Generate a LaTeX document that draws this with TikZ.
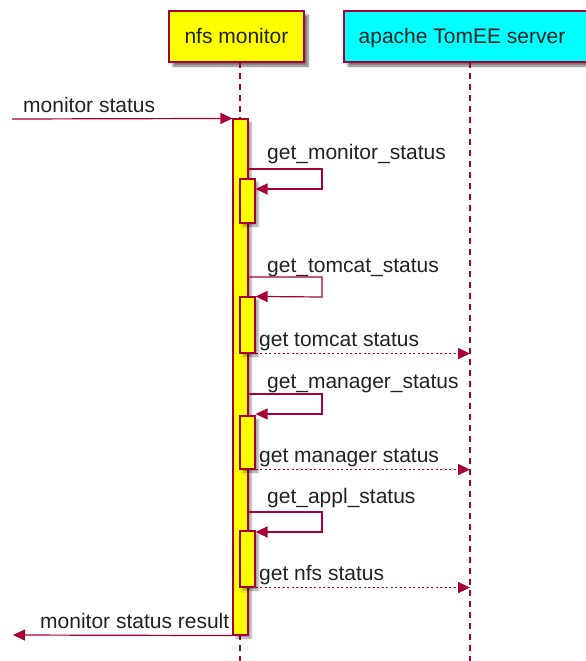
\documentclass[tikz,border=0pt]{standalone}
\usepackage{fontspec}
\setmainfont{Liberation Sans}
\usetikzlibrary{arrows.meta,shadows.blur}
\definecolor{umlred}{HTML}{A80036}
\definecolor{txt}{HTML}{222222}
\definecolor{aqua}{HTML}{00FFFF}
\definecolor{lemon}{HTML}{FFFF00}

\begin{document}
\begin{tikzpicture}[x=1pt,y=-1pt,
  lbl/.style={anchor=base west, inner sep=0pt, text=txt, font=\fontsize{21}{24}\selectfont},
  participant/.style={draw=umlred, line width=1.3pt, inner sep=0pt,
    minimum height=51pt, text height=15pt, text depth=0pt, text=txt,
    font=\fontsize{21}{24}\selectfont,
    blur shadow={shadow xshift=4pt, shadow yshift=-4pt, shadow blur steps=6, shadow opacity=55}},
  bar/.style={draw=umlred, fill=lemon, line width=1.1pt, inner sep=0pt, minimum width=15pt,
    blur shadow={shadow xshift=3pt, shadow yshift=-3pt, shadow blur steps=4, shadow opacity=40}},
  lifeline/.style={draw=umlred, line width=1.2pt, dash pattern=on 6pt off 5pt},
  headed/.style={-{Triangle[length=12pt,width=11pt,fill=umlred]}},
  msg/.style={draw=umlred, line width=1.2pt, headed},
  reply/.style={msg, line width=1.4pt, dash pattern=on 2pt off 2.5pt}
]
\useasboundingbox (0,0) rectangle (586,661);

% participants
\node[participant, fill=lemon, minimum width=135pt] (mon) at (236.5,36.5) {nfs monitor};
\node[participant, fill=aqua, minimum width=250pt] (srv) at (469,36.5) {\hspace*{-14pt}apache TomEE server};

% lifelines
\coordinate (monTop) at (240,62);
\coordinate (monEnd) at (240,661);
\coordinate (srvTop) at (470,62);
\coordinate (srvEnd) at (470,661);
\draw[lifeline] (monTop) -- (monEnd);
\draw[lifeline] (srvTop) -- (srvEnd);

% activation bars
\node[bar, minimum height=516pt] (main) at (240.5,377) {};
\node[bar, minimum height=44pt] (a1) at (247.5,201) {};
\node[bar, minimum height=56pt] (a2) at (247.5,325) {};
\node[bar, minimum height=53pt] (a3) at (247.5,442.5) {};
\node[bar, minimum height=56pt] (a4) at (247.5,559) {};

% incoming call
\coordinate (caller) at (12,119);
\draw[msg] (caller) -- (main.north west);
\node[lbl] (t0) at (23,112) {monitor status};

% get_monitor_status
\draw[msg] (main.east |- 0,169) -- (322,169) -- (322,189) -- (a1.east |- 0,189);
\node[lbl] (t1) at (267,159) {get\_monitor\_status};

% get_tomcat_status
\draw[msg] (main.east |- 0,277) -- (322,277) -- (322,297) -- (a2.north east);
\node[lbl] (t2) at (267,272) {get\_tomcat\_status};
\draw[reply] (a2.south east) -- (srvTop |- a2.south east);
\node[lbl] (t3) at (259,346) {get tomcat status};

% get_manager_status
\draw[msg] (main.east |- 0,394) -- (322,394) -- (322,414) -- (a3.east |- 0,414);
\node[lbl] (t4) at (267,388) {get\_manager\_status};
\draw[reply] (a3.south east) -- (srvTop |- a3.south east);
\node[lbl] (t5) at (259,462) {get manager status};

% get_appl_status
\draw[msg] (main.east |- 0,512) -- (322,512) -- (322,532) -- (a4.east |- 0,532);
\node[lbl] (t6) at (267,503) {get\_appl\_status};
\draw[reply] (a4.south east) -- (srvTop |- a4.south east);
\node[lbl] (t7) at (259,580) {get nfs status};

% result back to the caller
\coordinate (back) at (13,635);
\draw[msg] (main.south west) -- (back);
\node[lbl] (t8) at (40,628) {monitor status result};
\end{tikzpicture}
\end{document}
